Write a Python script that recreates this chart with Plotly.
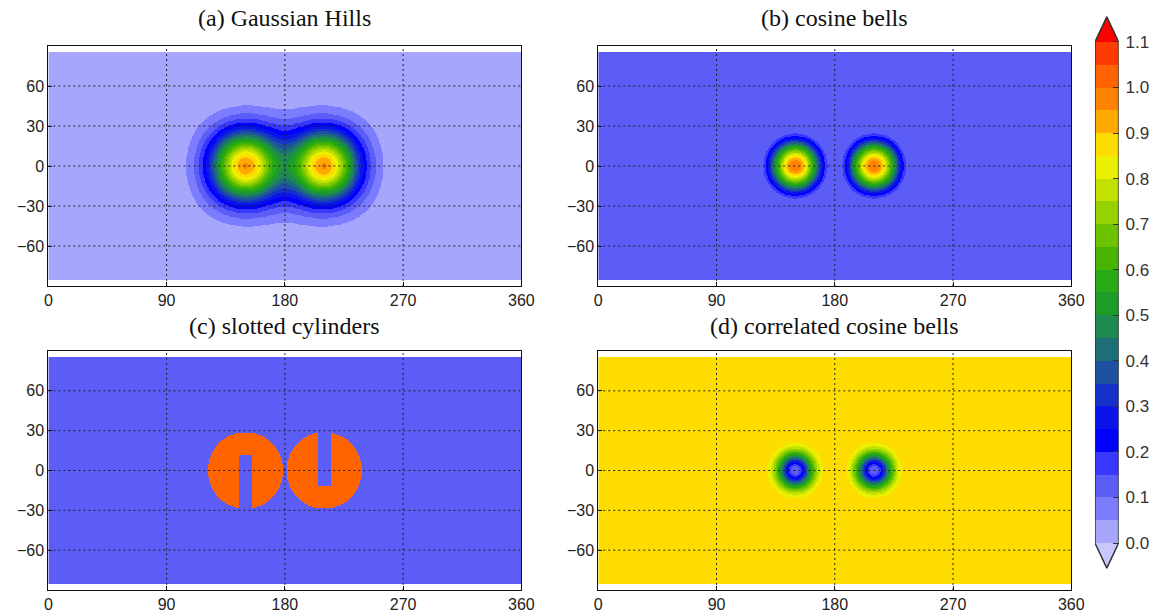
import numpy as np
import plotly.graph_objects as go

# ---------------- data / parameters ----------------
PANEL_TITLES = ["(a) Gaussian Hills", "(b) cosine bells", "(c) slotted cylinders", "(d) correlated cosine bells"]
CENTER_LON = [150.0, 210.0]          # degrees
CENTER_LAT = [0.0, 0.0]              # degrees
GAUSS_HMAX = 0.95
GAUSS_B = 5.0
BELL_RADIUS = 0.5                    # radians (great-circle)
BELL_BASE = 0.1
BELL_AMP = 0.9
CYL_BASE = 0.1
CYL_VALUE = 1.0
CORR_A = -0.8
CORR_B = 0.9

LEVELS = [round(0.05 * k, 2) for k in range(23)]          # 0.00 ... 1.10
CBAR_TICKS = [round(0.1 * k, 1) for k in range(12)]       # 0.0 ... 1.1
X_TICKS = [0, 90, 180, 270, 360]
Y_TICKS = [-60, -30, 0, 30, 60]

# colours: under-range, 22 bands, over-range
BAND_COLORS = [
    "#C8C8FF",
    "#A6A6FC", "#7C7CFF", "#5C5CF6", "#3838FF", "#0000FF", "#0A14E8",
    "#1432C8", "#1E50A0", "#1E6E78", "#1E8A50", "#1E9C28", "#28AA14",
    "#46B400", "#6EC300", "#96D200", "#C3E100", "#EAF000", "#FFDC00",
    "#FFAA00", "#FF8200", "#FF6400", "#FF3C00",
    "#FF0000",
]

# ---------------- fields ----------------
lon = np.arange(0.25, 360.0, 0.5)
lat = np.arange(-85.25, 85.26, 0.5)
LON, LAT = np.meshgrid(np.radians(lon), np.radians(lat))


def gc_dist(l0, t0):
    l0, t0 = np.radians(l0), np.radians(t0)
    c = np.sin(t0) * np.sin(LAT) + np.cos(t0) * np.cos(LAT) * np.cos(LON - l0)
    return np.arccos(np.clip(c, -1, 1))


def gaussian_hills():
    X = np.cos(LAT) * np.cos(LON); Y = np.cos(LAT) * np.sin(LON); Z = np.sin(LAT)
    h = np.zeros_like(LON)
    for l0, t0 in zip(CENTER_LON, CENTER_LAT):
        l0r, t0r = np.radians(l0), np.radians(t0)
        xi = np.cos(t0r) * np.cos(l0r); yi = np.cos(t0r) * np.sin(l0r); zi = np.sin(t0r)
        h += GAUSS_HMAX * np.exp(-GAUSS_B * ((X - xi) ** 2 + (Y - yi) ** 2 + (Z - zi) ** 2))
    return h


def cosine_bells():
    h = np.zeros_like(LON)
    for l0, t0 in zip(CENTER_LON, CENTER_LAT):
        r = gc_dist(l0, t0)
        h += np.where(r < BELL_RADIUS, 0.5 * (1 + np.cos(np.pi * r / BELL_RADIUS)), 0.0)
    return BELL_BASE + BELL_AMP * h


def slotted_cylinders():
    f = np.full_like(LON, CYL_BASE)
    R = BELL_RADIUS
    for i, (l0, t0) in enumerate(zip(CENTER_LON, CENTER_LAT)):
        r = gc_dist(l0, t0)
        dl = np.abs(LON - np.radians(l0))
        dt = LAT - np.radians(t0)
        if i == 0:
            inside = (r <= R) & ((dl >= R / 6) | (dt >= 5 * R / 12))
        else:
            inside = (r <= R) & ((dl >= R / 6) | (dt <= -5 * R / 12))
        f = np.where(inside, CYL_VALUE, f)
    return f


def correlated_bells():
    return CORR_A * cosine_bells() ** 2 + CORR_B


FIELDS = [gaussian_hills(), cosine_bells(), slotted_cylinders(), correlated_bells()]


def band_index(v):
    k = np.floor(v / 0.05 + 1e-9).astype(int)
    return np.clip(k, -1, len(LEVELS) - 1)


n = len(BAND_COLORS)
colorscale = []
for k, c in enumerate(BAND_COLORS):
    colorscale.append([k / n, c])
    colorscale.append([(k + 1) / n, c])
ZMIN, ZMAX = -1.5, n - 1.5

# ---------------- layout geometry (pixels -> paper) ----------------
W, H = 1173, 615
def px_x(a, b): return [a / W, b / W]
def px_y(top, bot): return [(H - bot) / H, (H - top) / H]

PANEL_X = [px_x(45, 525), px_x(603, 1083), px_x(45, 525), px_x(603, 1083)]
PANEL_Y = [px_y(46, 286), px_y(46, 286), px_y(351, 590), px_y(351, 590)]
TITLE_Y = [18, 18, 326, 326]

fig = go.Figure()
tick_font = dict(family="Liberation Sans, Arial, sans-serif", size=16, color="#222")
shapes = []
annotations = []
layout_axes = {}

for i in range(4):
    ax = i + 1
    fig.add_trace(go.Heatmap(
        x=lon, y=lat, z=band_index(FIELDS[i]), zmin=ZMIN, zmax=ZMAX,
        colorscale=colorscale, showscale=False, hoverinfo="skip",
        xaxis=f"x{ax}", yaxis=f"y{ax}", zsmooth=False,
    ))
    common = dict(showline=True, mirror=True, linecolor="#111", linewidth=1,
                  ticks="inside", ticklen=4, tickcolor="#111", showgrid=False,
                  zeroline=False, tickfont=tick_font)
    layout_axes[f"xaxis{ax}"] = dict(domain=PANEL_X[i], range=[0, 360], tickvals=X_TICKS,
                                     anchor=f"y{ax}", **common)
    layout_axes[f"yaxis{ax}"] = dict(domain=PANEL_Y[i], range=[-90, 90], tickvals=Y_TICKS,
                                     anchor=f"x{ax}", **common)
    xr = "x" if ax == 1 else f"x{ax}"
    yr = "y" if ax == 1 else f"y{ax}"
    for xv in X_TICKS[1:-1]:
        shapes.append(dict(type="line", xref=xr, yref=yr, x0=xv, x1=xv, y0=-90, y1=90,
                           line=dict(color="#222", width=1, dash="2px,3px"), layer="above"))
    for yv in Y_TICKS:
        shapes.append(dict(type="line", xref=xr, yref=yr, x0=0, x1=360, y0=yv, y1=yv,
                           line=dict(color="#222", width=1, dash="2px,3px"), layer="above"))
    annotations.append(dict(text=PANEL_TITLES[i], xref="paper", yref="paper",
                            x=sum(PANEL_X[i]) / 2, y=(H - TITLE_Y[i]) / H,
                            xanchor="center", yanchor="middle", showarrow=False,
                            font=dict(family="Liberation Serif, DejaVu Serif, serif", size=24, color="#111")))

# ---------------- colour bar as its own subplot ----------------
lo, hi = LEVELS[0], LEVELS[-1]
tri = 0.055
fig.add_trace(go.Heatmap(
    x=[0, 1], y=LEVELS, z=[[k] for k in range(len(LEVELS) - 1)], zmin=ZMIN, zmax=ZMAX,
    colorscale=colorscale, showscale=False, hoverinfo="skip", xaxis="x5", yaxis="y5",
))
fig.add_trace(go.Scatter(x=[0, 0.5, 1, 0], y=[hi, hi + tri, hi, hi], fill="toself",
                         fillcolor=BAND_COLORS[-1], mode="none", hoverinfo="skip",
                         showlegend=False, xaxis="x5", yaxis="y5"))
fig.add_trace(go.Scatter(x=[0, 0.5, 1, 0], y=[lo, lo - tri, lo, lo], fill="toself",
                         fillcolor=BAND_COLORS[0], mode="none", hoverinfo="skip",
                         showlegend=False, xaxis="x5", yaxis="y5"))
fig.add_trace(go.Scatter(x=[0, 0, 0.5, 1, 1, 0.5, 0], y=[lo, hi, hi + tri, hi, lo, lo - tri, lo],
                         mode="lines", line=dict(color="#333", width=1.5), hoverinfo="skip",
                         showlegend=False, cliponaxis=False, xaxis="x5", yaxis="y5"))

layout_axes["xaxis5"] = dict(domain=px_x(1107, 1131), range=[0, 1], visible=False,
                             anchor="y5", fixedrange=True)
layout_axes["yaxis5"] = dict(domain=px_y(16, 569), range=[lo - 0.057, hi + 0.057],
                             anchor="x5", side="right", tickvals=CBAR_TICKS,
                             ticktext=[f"{v:.1f}" for v in CBAR_TICKS],
                             ticks="inside", ticklen=6, tickcolor="#333",
                             ticklabelstandoff=6,
                             showgrid=False, zeroline=False, showline=False,
                             tickfont=dict(family="Liberation Sans, Arial, sans-serif", size=17, color="#333"))

fig.update_layout(
    width=W, height=H, margin=dict(l=0, r=0, t=0, b=0),
    paper_bgcolor="white", plot_bgcolor="white", showlegend=False,
    shapes=shapes, annotations=annotations, **layout_axes,
)

fig.write_html("out.html")
